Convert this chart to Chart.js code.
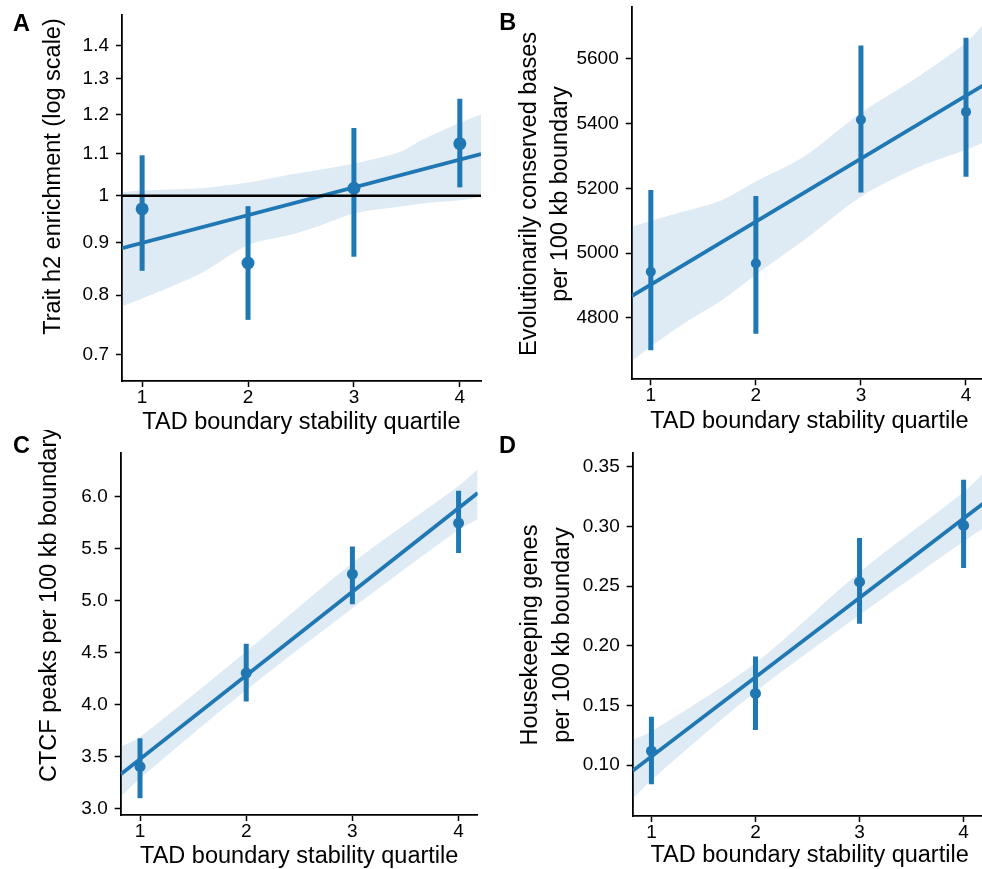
<!DOCTYPE html>
<html>
<head>
<meta charset="utf-8">
<script src="https://cdn.jsdelivr.net/npm/chart.js@4.4.1/dist/chart.umd.min.js"></script>
<style>
  html, body { margin: 0; padding: 0; background: #fff; }
  body { position: relative; width: 982px; height: 869px; overflow: hidden; }
  canvas { position: absolute; }
</style>
</head>
<body>
<canvas id="panelA" width="490" height="445" style="left:0;top:0"></canvas>
<canvas id="panelB" width="502" height="445" style="left:490px;top:0"></canvas>
<canvas id="panelC" width="490" height="445" style="left:0;top:430px"></canvas>
<canvas id="panelD" width="502" height="445" style="left:490px;top:430px"></canvas>
<script>
'use strict'

// quartiles on the x axis
var quartiles = [1, 2, 3, 4];
var quartileTicks = [1, 2, 3, 4];

// A: trait h2 enrichment (log scale)
var h2Mean = [0.971, 0.860, 1.017, 1.124];
var h2Low = [0.845, 0.757, 0.872, 1.019];
var h2High = [1.095, 0.977, 1.164, 1.243];
var h2FitX = [0.81, 4.2];
var h2FitY = [0.889, 1.098];
var h2BandX = [0.81, 1, 1.55, 2, 2.4, 2.65, 3, 3.44, 3.64, 4, 4.2];
var h2BandLow = [0.780, 0.794, 0.840, 0.895, 0.916, 0.933, 0.961, 0.976, 0.983, 0.990, 0.998];
var h2BandHigh = [1.008, 1.012, 1.017, 1.030, 1.049, 1.059, 1.075, 1.104, 1.133, 1.178, 1.200];
var h2Ticks = [0.7, 0.8, 0.9, 1, 1.1, 1.2, 1.3, 1.4];

// B: conserved bases per 100 kb boundary
var consMean = [4942, 4968, 5412, 5436];
var consLow = [4700, 4751, 5187, 5236];
var consHigh = [5195, 5176, 5641, 5665];
var consFitX = [0.818, 4.2];
var consFitY = [4867, 5525];
var consBandX = [0.818, 1, 1.367, 1.68, 2, 2.46, 3, 3.56, 4, 4.2];
var consBandLow = [4665, 4711, 4793, 4855, 4933, 5040, 5174, 5267, 5319, 5346];
var consBandHigh = [5081, 5100, 5133, 5164, 5221, 5298, 5433, 5548, 5650, 5719];
var consTicks = [4800, 5000, 5200, 5400, 5600];

// C: CTCF peaks per 100 kb boundary
var ctcfMean = [3.404, 4.303, 5.254, 5.744];
var ctcfLow = [3.10, 4.03, 4.965, 5.456];
var ctcfHigh = [3.677, 4.585, 5.519, 6.055];
var ctcfFitX = [0.818, 4.18];
var ctcfFitY = [3.331, 6.033];
var ctcfBandX = [0.818, 1, 2, 3, 4, 4.18];
var ctcfBandLow = [3.115, 3.29, 4.14, 4.927, 5.68, 5.78];
var ctcfBandHigh = [3.596, 3.69, 4.51, 5.36, 6.10, 6.26];
var ctcfTicks = [3.0, 3.5, 4.0, 4.5, 5.0, 5.5, 6.0];

// D: housekeeping genes per 100 kb boundary
var hkMean = [0.1117, 0.160, 0.2534, 0.3008];
var hkLow = [0.0838, 0.1293, 0.2184, 0.2651];
var hkHigh = [0.1405, 0.191, 0.2903, 0.339];
var hkFitX = [0.82, 4.22];
var hkFitY = [0.0952, 0.3213];
var hkBandX = [0.82, 1, 2, 3, 4, 4.22];
var hkBandLow = [0.0717, 0.0874, 0.1614, 0.2258, 0.2873, 0.300];
var hkBandHigh = [0.1209, 0.128, 0.1855, 0.2615, 0.3287, 0.347];
var hkTicks = [0.10, 0.15, 0.20, 0.25, 0.30, 0.35];

var FONT = '"Liberation Sans", Arial, Helvetica, sans-serif';
var BLUE = '#1f77b4';
var BAND = 'rgba(31, 119, 180, 0.15)';

Chart.defaults.font.family = FONT;
Chart.defaults.color = '#000';

// panel letter and rotated y-axis title
var panelText = {
    id: 'panelText',
    afterDraw: function (chart, args, opts) {
        var ctx = chart.ctx;
        ctx.save();
        ctx.fillStyle = '#000';
        ctx.font = 'bold 23.5px ' + FONT;
        ctx.textAlign = 'left';
        ctx.textBaseline = 'alphabetic';
        ctx.fillText(opts.letter, opts.letterAt[0], opts.letterAt[1]);
        ctx.font = '23.5px ' + FONT;
        ctx.textAlign = 'center';
        ctx.textBaseline = 'middle';
        opts.title.forEach(function (line, i) {
            ctx.save();
            ctx.translate(opts.titleX[i], opts.titleY);
            ctx.rotate(-Math.PI / 2);
            ctx.fillText(line, 0, 0);
            ctx.restore();
        });
        ctx.restore();
    }
};

function toPoints(xs, ys) {
    return xs.map(function (x, i) { return {x: x, y: ys[i]}; });
}

function createPanel(canvasID, p) {
    var datasets = [
        {type: 'line', data: toPoints(p.bandX, p.bandLow), borderWidth: 0, pointRadius: 0, tension: 0.3, fill: false, order: 10},
        {type: 'line', data: toPoints(p.bandX, p.bandHigh), borderWidth: 0, pointRadius: 0, tension: 0.3, fill: '-1', backgroundColor: BAND, order: 9},
        {type: 'line', data: toPoints(p.fitX, p.fitY), borderColor: BLUE, borderWidth: 3.8, pointRadius: 0, order: 2},
        {type: 'line', data: toPoints(quartiles, p.mean), showLine: false, pointRadius: p.dot, pointBackgroundColor: BLUE, pointBorderWidth: 0, order: 1}
    ];
    quartiles.forEach(function (q, i) {
        datasets.push({
            type: 'line',
            data: [{x: q, y: p.low[i]}, {x: q, y: p.high[i]}],
            borderColor: BLUE, borderWidth: 5, borderCapStyle: 'butt', pointRadius: 0, order: 3
        });
    });
    if (p.refLine) {
        datasets.push({
            type: 'line',
            data: toPoints(p.xRange, [p.refLine, p.refLine]),
            borderColor: '#000', borderWidth: 2.4, pointRadius: 0, order: 0
        });
    }

    var axisLine = {color: '#000', width: 1.8};
    var tickMarks = {drawOnChartArea: false, drawTicks: true, tickLength: 6, tickColor: '#000', tickWidth: 1.5};

    return new Chart(document.getElementById(canvasID), {
        type: 'line',
        data: {datasets: datasets},
        plugins: [panelText],
        options: {
            responsive: false,
            animation: false,
            devicePixelRatio: 1,
            events: [],
            layout: {padding: {left: 0, top: p.padTop, right: p.padRight, bottom: 0}},
            plugins: {
                legend: {display: false},
                tooltip: {enabled: false},
                panelText: {letter: p.letter, letterAt: p.letterAt, title: p.title, titleX: p.titleX, titleY: p.titleY}
            },
            scales: {
                x: {
                    type: 'linear',
                    min: p.xRange[0], max: p.xRange[1],
                    bounds: 'data',
                    border: axisLine,
                    grid: tickMarks,
                    afterBuildTicks: function (s) { s.ticks = quartileTicks.map(function (v) { return {value: v}; }); },
                    afterFit: function (s) { s.height = p.xHeight; s.paddingLeft = 0; s.paddingRight = 0; },
                    ticks: {font: {size: 19, lineHeight: 1}, color: '#000', padding: 1, maxRotation: 0, autoSkip: false,
                        callback: function (v) { return String(v); }},
                    title: {display: true, text: 'TAD boundary stability quartile', color: '#000',
                        font: {size: 23.5, lineHeight: 1.2}, padding: {top: 0, bottom: p.xTitlePad}}
                },
                y: {
                    type: p.yType,
                    min: p.yRange[0], max: p.yRange[1],
                    bounds: 'data',
                    border: axisLine,
                    grid: tickMarks,
                    afterBuildTicks: function (s) { s.ticks = p.yTicks.map(function (v) { return {value: v}; }); },
                    afterFit: function (s) { s.width = p.yWidth; s.paddingTop = 0; s.paddingBottom = 0; },
                    ticks: {font: {size: 19, lineHeight: 1}, color: '#000', padding: 7, autoSkip: false,
                        callback: p.fmt}
                }
            }
        }
    });
}

window.onload = function () {
    createPanel('panelA', {
        mean: h2Mean, low: h2Low, high: h2High,
        fitX: h2FitX, fitY: h2FitY, bandX: h2BandX, bandLow: h2BandLow, bandHigh: h2BandHigh,
        yTicks: h2Ticks, yType: 'logarithmic', yRange: [0.66, 1.50], xRange: [0.81, 4.2],
        refLine: 1, dot: 6.5,
        fmt: function (v) { return String(Math.round(v * 10) / 10); },
        padTop: 15, padRight: 9, yWidth: 122, xHeight: 64, xTitlePad: 8,
        letter: 'A', letterAt: [13, 31],
        title: ['Trait h2 enrichment (log scale)'], titleX: [53.6], titleY: 176.5
    });
    createPanel('panelB', {
        mean: consMean, low: consLow, high: consHigh,
        fitX: consFitX, fitY: consFitY, bandX: consBandX, bandLow: consBandLow, bandHigh: consBandHigh,
        yTicks: consTicks, yType: 'linear', yRange: [4610, 5760], xRange: [0.818, 4.2],
        dot: 5,
        fmt: function (v) { return String(v); },
        padTop: 7, padRight: 1, yWidth: 141.7, xHeight: 65.7, xTitlePad: 9,
        letter: 'B', letterAt: [9.3, 30],
        title: ['Evolutionarily conserved bases', 'per 100 kb boundary'], titleX: [39.5, 70.9], titleY: 194
    });
    createPanel('panelC', {
        mean: ctcfMean, low: ctcfLow, high: ctcfHigh,
        fitX: ctcfFitX, fitY: ctcfFitY, bandX: ctcfBandX, bandLow: ctcfBandLow, bandHigh: ctcfBandHigh,
        yTicks: ctcfTicks, yType: 'linear', yRange: [2.94, 6.42], xRange: [0.818, 4.18],
        dot: 5.5,
        fmt: function (v) { return v.toFixed(1); },
        padTop: 22.7, padRight: 12.3, yWidth: 120.7, xHeight: 60, xTitlePad: 4,
        letter: 'C', letterAt: [13, 22.7],
        title: ['CTCF peaks per 100 kb boundary'], titleX: [49.2], titleY: 175
    });
    createPanel('panelD', {
        mean: hkMean, low: hkLow, high: hkHigh,
        fitX: hkFitX, fitY: hkFitY, bandX: hkBandX, bandLow: hkBandLow, bandHigh: hkBandHigh,
        yTicks: hkTicks, yType: 'linear', yRange: [0.0573, 0.3617], xRange: [0.82, 4.22],
        dot: 5.5,
        fmt: function (v) { return v.toFixed(2); },
        padTop: 22.7, padRight: 4.7, yWidth: 142.7, xHeight: 59, xTitlePad: 5.7,
        letter: 'D', letterAt: [9, 22.7],
        title: ['Housekeeping genes', 'per 100 kb boundary'], titleX: [41, 72.4], titleY: 205
    });
};
</script>
</body>
</html>
